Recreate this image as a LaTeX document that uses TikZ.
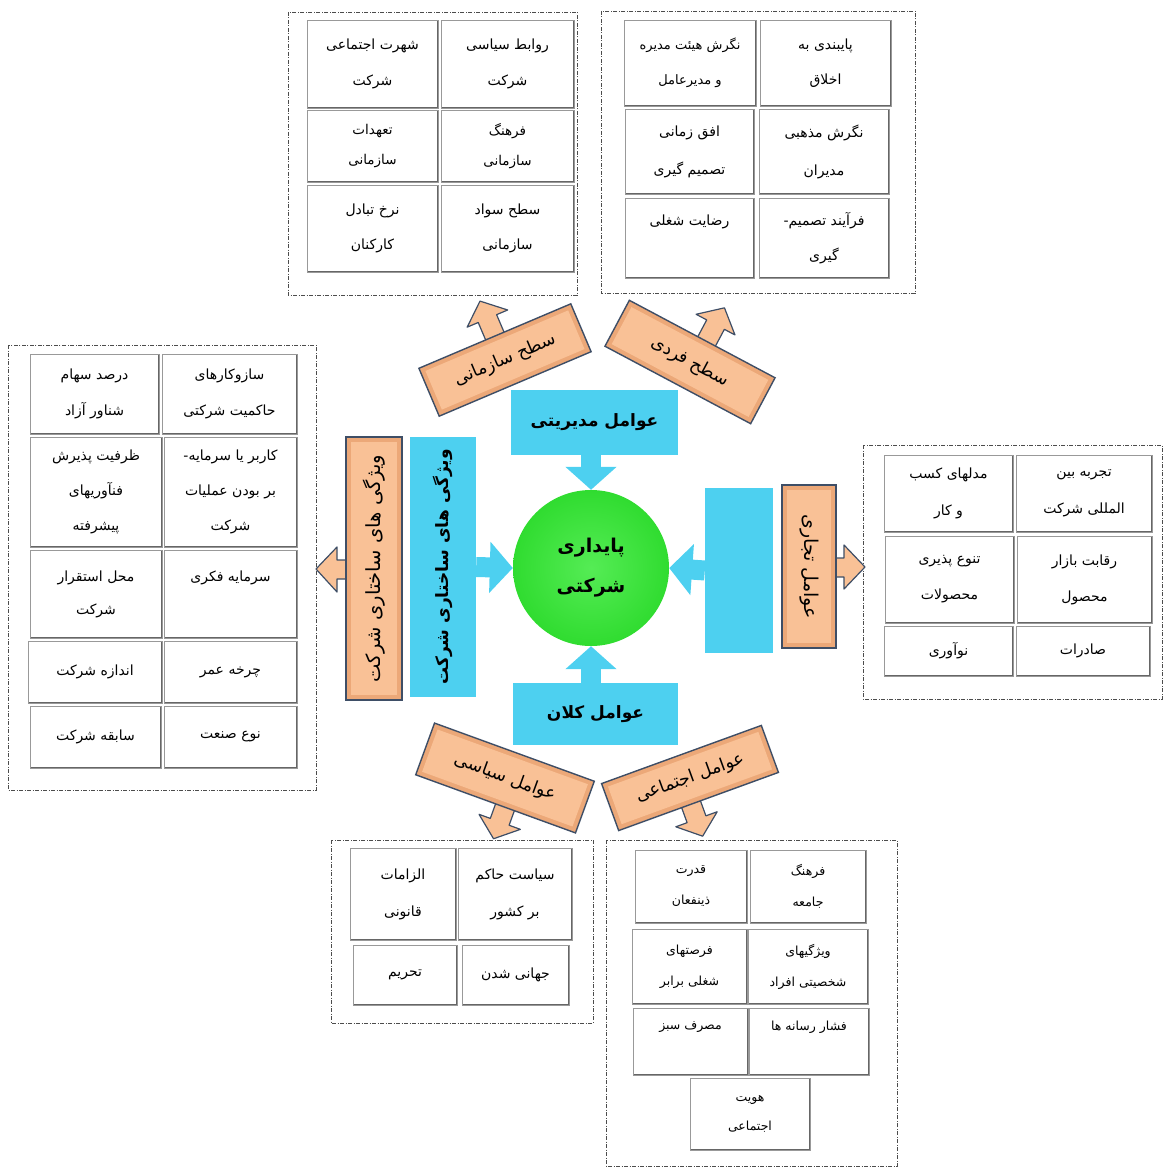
\documentclass[tikz,border=0pt]{standalone}
\usepackage{fontspec}
\usetikzlibrary{arrows.meta}
\newfontfamily\fafont[Script=Arabic]{DejaVu Sans}
\TeXXeTstate=1
\newcommand\fa[1]{{\fafont\beginR #1\endR}}
\definecolor{skyb}{RGB}{77,208,240}
\definecolor{peach}{RGB}{249,193,150}
\definecolor{peachE}{RGB}{236,168,120}
\definecolor{slate}{RGB}{62,78,102}
\definecolor{grn}{RGB}{48,220,48}
\definecolor{grnL}{RGB}{85,236,85}
\tikzset{
 frame/.style={draw=black!70, line width=0.7pt, dash pattern=on 4pt off 1.5pt on 1pt off 1.5pt},
 cell/.style={draw=black!40, line width=0.7pt, fill=white, inner sep=0pt, align=center,
   font=\fontsize{14}{35}\selectfont,
   path picture={\draw[black!60, line width=2.6pt] (path picture bounding box.north east) -- (path picture bounding box.south east) -- (path picture bounding box.south west);}},
 bbox/.style={fill=skyb, inner sep=0pt, align=center, font=\fontsize{17}{20}\selectfont\bfseries},
 barrow/.style={draw=skyb, line width=20pt, -{Triangle[width=50pt,length=23pt]}},
 oedge/.style={fill=peachE, draw=slate, line width=1.4pt},
 oin/.style={fill=peach},
 otext/.style={inner sep=0pt, font=\fontsize{17.5}{20}\selectfont},
 oarrow/.style={fill=peach, draw=slate, line width=1.2pt, line join=round},
}
% cell: [opts]{name}{x1}{y1}{x2}{y2}{text}
\newcommand\cellat[7][]{\node[cell,#1,minimum width={#5-#3},minimum height={#6-#4}] (#2) at ({(#3+#5)/2},{(#4+#6)/2}) {#7};}
% vertical orange box: name x1 y1 x2 y2 rot text
\newcommand\ovbox[7]{%
 \draw[oedge] (#2,#3) rectangle (#4,#5);
 \fill[oin] ({#2+5},{#3+5}) rectangle ({#4-5},{#5-5});
 \node[otext, rotate=#6] (#1) at ({(#2+#4)/2},{(#3+#5)/2}) {#7};}
% tilted orange box body (inside a rotated scope): half width, half height
\newcommand\otilt[2]{%
 \draw[oedge] (-#1,-#2) rectangle (#1,#2);
 \fill[oin] ({-#1+5},{-#2+5}) rectangle ({#1-5},{#2-5});}
\begin{document}
\begin{tikzpicture}[x=1pt,y=-1pt]
\useasboundingbox (0,0) rectangle (1163,1169);

% ---------- frames ----------
\draw[frame] (288,12) rectangle (577,295);
\draw[frame] (601,11) rectangle (915,293);
\draw[frame] (8,345) rectangle (316,790);
\draw[frame] (863,445) rectangle (1162,699);
\draw[frame] (331,840) rectangle (593,1023);
\draw[frame] (606,840) rectangle (897,1166);

% ---------- top-left cells ----------
\cellat[font=\fontsize{14}{36}\selectfont]{tlA}{441}{20}{574}{108}{\fa{روابط سیاسی}\\\fa{شرکت}}
\cellat[font=\fontsize{14}{36}\selectfont]{tlB}{307}{20}{438}{108}{\fa{شهرت اجتماعی}\\\fa{شرکت}}
\cellat[font=\fontsize{13.5}{30}\selectfont]{tlC}{441}{110}{574}{182}{\fa{فرهنگ}\\\fa{سازمانی}}
\cellat[font=\fontsize{13.5}{30}\selectfont]{tlD}{307}{110}{438}{182}{\fa{تعهدات}\\\fa{سازمانی}}
\cellat{tlE}{441}{185}{574}{272}{\fa{سطح سواد}\\\fa{سازمانی}}
\cellat{tlF}{307}{185}{438}{272}{\fa{نرخ تبادل}\\\fa{کارکنان}}

% ---------- top-right cells ----------
\cellat{trA}{760}{20}{891}{106}{\fa{پایبندی به}\\\fa{اخلاق}}
\cellat[font=\fontsize{13}{35}\selectfont]{trB}{624}{20}{756}{106}{\fa{نگرش هیئت مدیره}\\\fa{و مدیرعامل}}
\cellat[font=\fontsize{14}{38}\selectfont]{trC}{759}{109}{889}{194}{\fa{نگرش مذهبی}\\\fa{مدیران}}
\cellat[font=\fontsize{14}{38}\selectfont]{trD}{625}{109}{754}{194}{\fa{افق زمانی}\\\fa{تصمیم گیری}}
\cellat{trE}{759}{198}{889}{278}{\fa{فرآیند تصمیم-}\\\fa{گیری}}
\cellat{trF}{625}{198}{754}{278}{\fa{رضایت شغلی}\\\mbox{}}

% ---------- left cells ----------
\cellat[font=\fontsize{14}{36}\selectfont]{lA}{162}{354}{297}{434}{\fa{سازوکارهای}\\\fa{حاکمیت شرکتی}}
\cellat[font=\fontsize{14}{36}\selectfont]{lB}{30}{354}{159}{434}{\fa{درصد سهام}\\\fa{شناور آزاد}}
\cellat{lC}{164}{437}{297}{547}{\fa{کاربر یا سرمایه-}\\\fa{بر بودن عملیات}\\\fa{شرکت}}
\cellat{lD}{30}{437}{162}{547}{\fa{ظرفیت پذیرش}\\\fa{فنآوریهای}\\\fa{پیشرفته}}
\cellat{lE}{164}{550}{297}{638}{\fa{سرمایه فکری}\\\mbox{}}
\cellat[font=\fontsize{14}{33}\selectfont]{lF}{30}{550}{162}{638}{\fa{محل استقرار}\\\fa{شرکت}}
\cellat{lG}{164}{641}{297}{703}{\fa{چرخه عمر}}
\cellat{lH}{28}{641}{162}{703}{\fa{اندازه شرکت}}
\cellat{lI}{164}{706}{297}{768}{\fa{نوع صنعت}}
\cellat{lJ}{30}{706}{161}{768}{\fa{سابقه شرکت}}

% ---------- right cells ----------
\cellat[font=\fontsize{14}{37}\selectfont]{rA}{1016}{455}{1152}{532}{\fa{تجربه بین}\\\fa{المللی شرکت}}
\cellat[font=\fontsize{14}{37}\selectfont]{rB}{884}{455}{1013}{532}{\fa{مدلهای کسب}\\\fa{و کار}}
\cellat[font=\fontsize{14}{36}\selectfont]{rC}{1017}{536}{1152}{623}{\fa{رقابت بازار}\\\fa{محصول}}
\cellat[font=\fontsize{14}{36}\selectfont]{rD}{885}{536}{1014}{623}{\fa{تنوع پذیری}\\\fa{محصولات}}
\cellat{rE}{1016}{626}{1150}{676}{\fa{صادرات}}
\cellat{rF}{884}{626}{1013}{676}{\fa{نوآوری}}

% ---------- bottom-left cells ----------
\cellat[font=\fontsize{14}{37}\selectfont]{blA}{458}{848}{572}{940}{\fa{سیاست حاکم}\\\fa{بر کشور}}
\cellat[font=\fontsize{14}{37}\selectfont]{blB}{350}{848}{456}{940}{\fa{الزامات}\\\fa{قانونی}}
\cellat{blC}{462}{945}{569}{1005}{\fa{جهانی شدن}}
\cellat{blD}{353}{945}{457}{1005}{\fa{تحریم}}

% ---------- bottom-right cells ----------
\cellat[font=\fontsize{12.5}{31}\selectfont]{brA}{750}{850}{866}{923}{\fa{فرهنگ}\\\fa{جامعه}}
\cellat[font=\fontsize{12.5}{31}\selectfont]{brB}{635}{850}{747}{923}{\fa{قدرت}\\\fa{ذینفعان}}
\cellat[font=\fontsize{12.5}{31}\selectfont]{brC}{748}{929}{868}{1004}{\fa{ویژگیهای}\\\fa{شخصیتی افراد}}
\cellat[font=\fontsize{12.5}{31}\selectfont]{brD}{632}{929}{747}{1004}{\fa{فرصتهای}\\\fa{شغلی برابر}}
\cellat[font=\fontsize{12.5}{31}\selectfont]{brE}{749}{1008}{869}{1075}{\fa{فشار رسانه ها}\\\mbox{}}
\cellat[font=\fontsize{12.5}{31}\selectfont]{brF}{633}{1008}{748}{1075}{\fa{مصرف سبز}\\\mbox{}}
\cellat[font=\fontsize{12.5}{29}\selectfont]{brG}{690}{1078}{810}{1150}{\fa{هویت}\\\fa{اجتماعی}}

% ---------- centre ----------
\node[circle, minimum size=156pt, inner sep=0pt, shading=radial, inner color=grnL, outer color=grn,
      align=center, font=\fontsize{19}{40}\selectfont\bfseries] (core) at (591,568) {\fa{پایداری}\\\fa{شرکتی}};

\node[bbox, minimum width=167pt, minimum height=65pt] (mgmt) at (594.5,422.5) {\fa{عوامل مدیریتی}};
\node[bbox, minimum width=165pt, minimum height=62pt] (macro) at (595.5,714) {\fa{عوامل کلان}};
\node[bbox, minimum width=66pt, minimum height=260pt] (struct) at (443,567) {};
\node[bbox, rotate=90] (structT) at (443,567) {\fa{ویژگی های ساختاری شرکت}};
\node[bbox, minimum width=68pt, minimum height=165pt] (trade) at (739,570.5) {};

\draw[barrow] (core.north |- mgmt.south) -- (core.north);
\draw[barrow] (core.south |- macro.north) -- (core.south);
\draw[barrow] (struct.east) -- (core.west);
\draw[barrow] (trade.west) -- (core.east);

% ---------- orange vertical boxes ----------
\draw[oarrow] (352,560) -- (337,560) -- (337,547) -- (316,569) -- (337,592) -- (337,579) -- (352,579) -- cycle;
\ovbox{structO}{346}{437}{402}{700}{90}{\fontsize{19.5}{22}\selectfont\fa{ویژگی های ساختاری شرکت}}
\draw[oarrow] (830,558) -- (844,558) -- (844,545) -- (865,567) -- (844,589) -- (844,577) -- (830,577) -- cycle;
\ovbox{tradeO}{782}{485}{836}{648}{-90}{\fontsize{19}{22}\selectfont\fa{عوامل تجاری}}

% ---------- orange tilted boxes ----------
\begin{scope}[shift={(505,360)}, rotate=23]
 \draw[oarrow] (-10,-20) -- (-10,-45) -- (-22,-45) -- (0,-64) -- (22,-45) -- (10,-45) -- (10,-20) -- cycle;
 \otilt{82.5}{26}
 \node[otext, rotate=23] (lvlOrg) at (0,0) {\fa{سطح سازمانی}};
\end{scope}
\begin{scope}[shift={(690,362)}, rotate=-28]
 \draw[oarrow] (-5,-20) -- (-5,-45) -- (-17,-45) -- (5,-64) -- (27,-45) -- (15,-45) -- (15,-20) -- cycle;
 \otilt{82.5}{26}
 \node[otext, rotate=-28] (lvlInd) at (0,0) {\fa{سطح فردی}};
\end{scope}
\begin{scope}[shift={(505,778)}, rotate=-20]
 \draw[oarrow] (0,20) -- (0,43) -- (-12,43) -- (10,61) -- (32,43) -- (20,43) -- (20,20) -- cycle;
 \otilt{85}{27.5}
 \node[otext, rotate=-20] (polit) at (0,0) {\fa{عوامل سیاسی}};
\end{scope}
\begin{scope}[shift={(690,778)}, rotate=20]
 \draw[oarrow] (-18,18) -- (-18,41) -- (-30,41) -- (-8,59) -- (14,41) -- (2,41) -- (2,18) -- cycle;
 \otilt{85}{25}
 \node[otext, rotate=20] (social) at (0,0) {\fa{عوامل اجتماعی}};
\end{scope}
\end{tikzpicture}
\end{document}
